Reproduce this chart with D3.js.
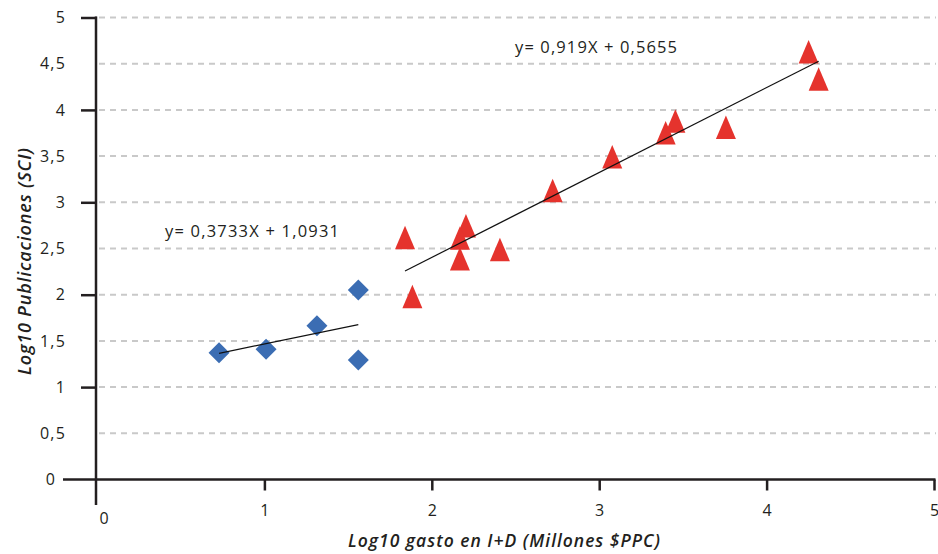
<!DOCTYPE html>
<html>
<head>
<meta charset="utf-8">
<script src="https://cdn.jsdelivr.net/npm/d3@7"></script>
<style>
  html, body { margin: 0; padding: 0; background: #fff; }
  svg { display: block; }
  text { font-family: "Open Sans", "Noto Sans", sans-serif; fill: #231f20; }
</style>
</head>
<body>
<svg id="chart" width="938" height="554"></svg>
<script>
// Country groups: log10 R&D spending vs log10 SCI publications
const blueX = [0.729, 1.01, 1.314, 1.561, 1.561];
const blueY = [1.372, 1.409, 1.664, 2.05, 1.293];

const redX = [1.84, 1.884, 2.204, 2.168, 2.168, 2.407, 2.722, 3.078, 3.397, 3.455, 3.757, 4.251, 4.311];
const redY = [2.617, 1.978, 2.743, 2.61, 2.386, 2.487, 3.126, 3.49, 3.75, 3.877, 3.81, 4.627, 4.331];

// Linear fits shown on the chart: [slope, intercept]
const blueFit = [0.3733, 1.0931];
const redFit = [0.919, 0.5655];
const blueFitLabel = "y= 0,3733X + 1,0931";
const redFitLabel = "y= 0,919X + 0,5655";

const xTicks = [0, 1, 2, 3, 4, 5];
const yLabelTicks = [0, 0.5, 1, 1.5, 2, 2.5, 3, 3.5, 4, 4.5, 5];
const yMajorTicks = [1, 2, 3, 4, 5];
const yGrid = [0.5, 1, 1.5, 2, 2.5, 3, 3.5, 4, 4.5, 5];

const xTitle = "Log10 gasto en I+D (Millones $PPC)";
const yTitle = "Log10 Publicaciones (SCI)";

const svg = d3.select("#chart");
const x = d3.scaleLinear().domain([0, 5]).range([97, 934]);
const y = d3.scaleLinear().domain([0, 5]).range([479.5, 17.5]);

const fmt = d3.formatLocale({ decimal: ",", thousands: ".", grouping: [3], currency: ["", ""] }).format("~g");

// dashed gridlines
svg.append("g").selectAll("line").data(yGrid).join("line")
  .attr("x1", x(0) + 2).attr("x2", x(5) + 2)
  .attr("y1", d => y(d)).attr("y2", d => y(d))
  .attr("stroke", "#c9c9c9").attr("stroke-width", 2)
  .attr("stroke-dasharray", "6,5");

// y axis: labels at every half unit, tick marks at integers
const yLabels = svg.append("g").attr("transform", `translate(${x(0)},0)`)
  .call(d3.axisLeft(y).tickValues(yLabelTicks).tickSize(0).tickPadding(31).tickFormat(fmt));
yLabels.select(".domain").remove();
yLabels.selectAll("text").attr("font-size", 16).attr("font-family", null)
  .attr("letter-spacing", 1.2)
  .attr("dx", d => d === 0 ? -10 : 0);

const yMarks = svg.append("g").attr("transform", `translate(${x(0)},0)`)
  .call(d3.axisLeft(y).tickValues(yMajorTicks).tickSize(16).tickFormat(""));
yMarks.select(".domain").remove();
yMarks.selectAll("line").attr("stroke", "#231f20").attr("stroke-width", 2.5);

// x axis: ticks at integers below the axis
const xAxis = svg.append("g").attr("transform", `translate(0,${y(0)})`)
  .call(d3.axisBottom(x).tickValues(xTicks.filter(d => d > 0)).tickSize(11).tickPadding(14).tickFormat(fmt));
xAxis.select(".domain").remove();
xAxis.selectAll("line").attr("stroke", "#231f20").attr("stroke-width", 2.5);
xAxis.selectAll("text").attr("font-size", 16).attr("font-family", null);

// zero label on x axis sits slightly right of the origin
svg.append("text").attr("x", x(0) + 7).attr("y", 524)
  .attr("text-anchor", "middle").attr("font-size", 16).text(fmt(xTicks[0]));

// axis lines
svg.append("line").attr("x1", 63).attr("x2", x(5) + 1.5)
  .attr("y1", y(0)).attr("y2", y(0))
  .attr("stroke", "#231f20").attr("stroke-width", 2.5);
svg.append("line").attr("x1", x(0) - 1).attr("x2", x(0) - 1)
  .attr("y1", y(5) - 1).attr("y2", 505)
  .attr("stroke", "#231f20").attr("stroke-width", 2.5);

// axis titles
svg.append("text").attr("x", 504).attr("y", 547)
  .attr("text-anchor", "middle").attr("font-size", 17.5)
  .attr("textLength", 312).attr("lengthAdjust", "spacing")
  .attr("font-style", "italic").attr("font-weight", 600).text(xTitle);
svg.append("text").attr("transform", "translate(31,261.5) rotate(-90)")
  .attr("text-anchor", "middle").attr("font-size", 18)
  .attr("textLength", 227).attr("lengthAdjust", "spacing")
  .attr("font-style", "italic").attr("font-weight", 600).text(yTitle);

// fit lines drawn from the stated equations over each group's x range
function fitLine(xs, fit) {
  const [a, b] = d3.extent(xs);
  return [[a, fit[0] * a + fit[1]], [b, fit[0] * b + fit[1]]];
}
const line = d3.line().x(d => x(d[0])).y(d => y(d[1]));

// markers
const diamond = "M0,-10.5L10.5,0L0,10.5L-10.5,0Z";
const triangle = "M0,-12L10,11.5L-10,11.5Z";

svg.append("g").selectAll("path").data(blueX.map((d, i) => [d, blueY[i]])).join("path")
  .attr("d", diamond).attr("fill", "#3b6db3")
  .attr("transform", d => `translate(${x(d[0])},${y(d[1])})`);

svg.append("g").selectAll("path").data(redX.map((d, i) => [d, redY[i]])).join("path")
  .attr("d", triangle).attr("fill", "#e5332d")
  .attr("transform", d => `translate(${x(d[0])},${y(d[1])})`);

svg.append("path").attr("d", line(fitLine(blueX, blueFit)))
  .attr("stroke", "#111").attr("stroke-width", 1.2).attr("fill", "none");
svg.append("path").attr("d", line(fitLine(redX, redFit)))
  .attr("stroke", "#111").attr("stroke-width", 1.2).attr("fill", "none");

// equation labels
svg.append("text").attr("x", 165).attr("y", 237).attr("font-size", 16.5)
  .attr("textLength", 174).attr("lengthAdjust", "spacing").text(blueFitLabel);
svg.append("text").attr("x", 515).attr("y", 53).attr("font-size", 16.5)
  .attr("textLength", 162).attr("lengthAdjust", "spacing").text(redFitLabel);
</script>
</body>
</html>
